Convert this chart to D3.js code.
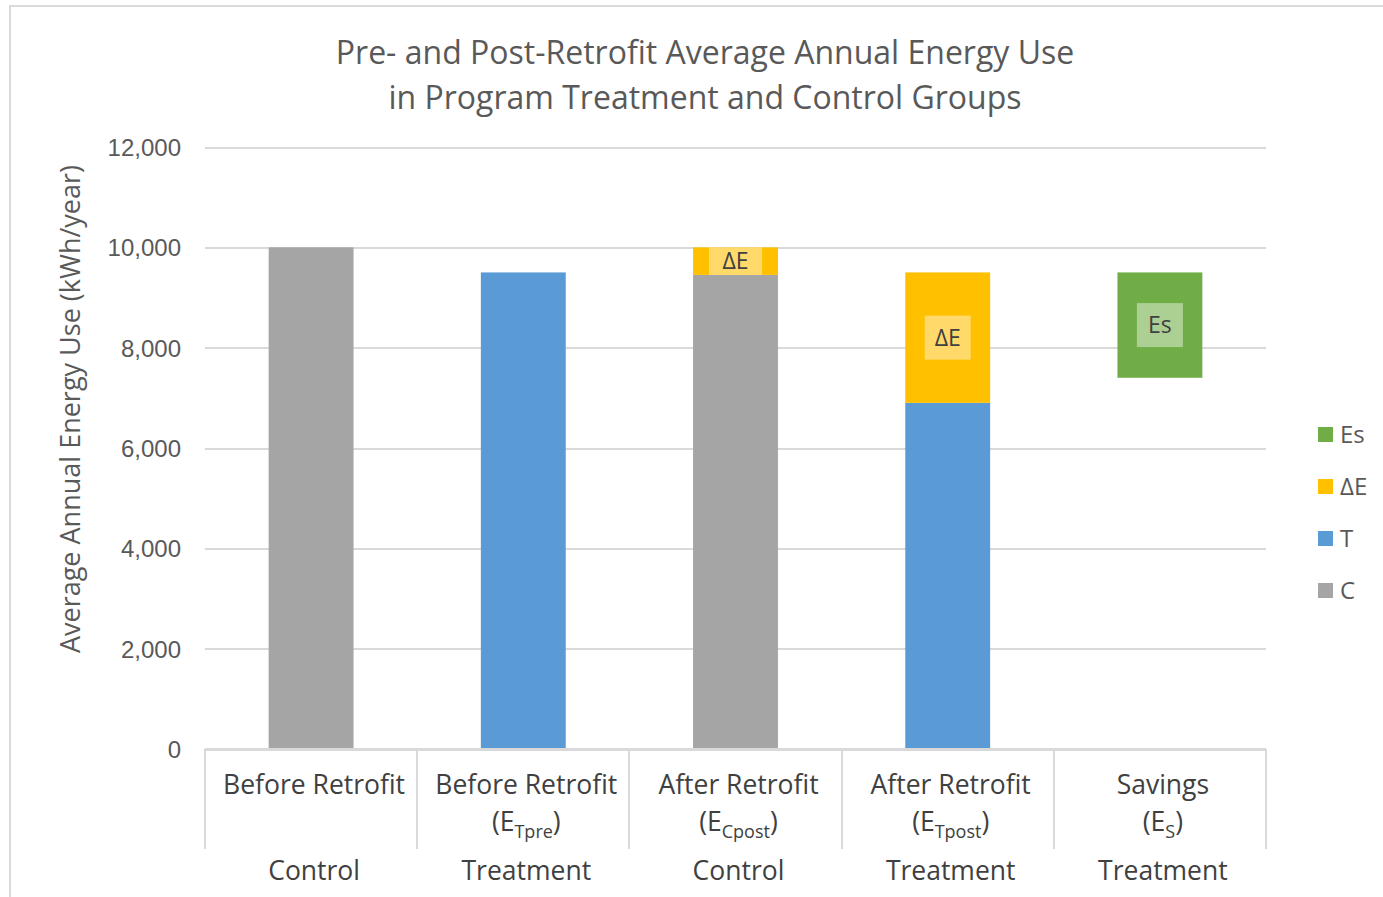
<!DOCTYPE html>
<meta charset="utf-8">
<style>
body { margin: 0; background: #fff; }
svg { font-family: "Open Sans", sans-serif; }
.grid line { stroke: #d9d9d9; stroke-width: 2px; shape-rendering: crispEdges; }
.grid path { stroke-width: 0; }
.grid text { fill: #595959; font-size: 24px; }
.axisline { stroke: #d9d9d9; stroke-width: 2px; shape-rendering: crispEdges; }
.cat { fill: #404040; font-size: 26.5px; text-anchor: middle; }
.seglabel { fill: #404040; font-size: 23px; text-anchor: middle; }
.legend text { fill: #595959; font-size: 24px; }
</style>
<body>
<script src="https://d3js.org/d3.v7.min.js"></script>
<script>

// chart data
var categories = ["Before Retrofit", "Before Retrofit", "After Retrofit", "After Retrofit", "Savings"];
var subscripts = ["", "Tpre", "Cpost", "Tpost", "S"];
var groups = ["Control", "Treatment", "Control", "Treatment", "Treatment"];
var baseValues = [0, 0, 0, 0, 7400];      // invisible offset
var cValues = [10000, 0, 9450, 0, 0];
var tValues = [0, 9500, 0, 6900, 0];
var deltaValues = [0, 0, 550, 2600, 0];
var esValues = [0, 0, 0, 0, 2100];
var yTicks = [0, 2000, 4000, 6000, 8000, 10000, 12000];

var series = [
  {key: "base", label: null, values: baseValues, color: "none"},
  {key: "C", label: "C", values: cValues, color: "#a5a5a5"},
  {key: "T", label: "T", values: tValues, color: "#5b9bd5"},
  {key: "dE", label: "\u0394E", values: deltaValues, color: "#ffc000"},
  {key: "Es", label: "Es", values: esValues, color: "#70ad47"}
];

var W = 1383, H = 897;
var margin = {top: 147, left: 205, right: 117, bottom: 148};
var width = 1266 - 205, height = 749 - 147;

var svg = d3.select("body").append("svg")
    .attr("width", W).attr("height", H);

// outer chart border
svg.append("rect")
    .attr("x", 10).attr("y", 6)
    .attr("width", W).attr("height", H)
    .attr("fill", "none").attr("stroke", "#d9d9d9").attr("stroke-width", 2);

// title
var title = svg.append("text")
    .attr("text-anchor", "middle")
    .style("fill", "#595959").style("font-size", "32px");
title.append("tspan").attr("x", 705).attr("y", 64).text("Pre- and Post-Retrofit Average Annual Energy Use");
title.append("tspan").attr("x", 705).attr("y", 109).text("in Program Treatment and Control Groups");

var g = svg.append("g").attr("transform", "translate(" + margin.left + "," + margin.top + ")");

var x = d3.scaleBand().domain(d3.range(categories.length)).range([0, width]);
var y = d3.scaleLinear().domain([0, 12000]).range([height, 0]);

// gridlines + y labels
g.append("g")
    .attr("class", "grid")
    .call(d3.axisLeft(y).tickValues(yTicks).tickSize(-width).tickPadding(24)
        .tickFormat(d3.format(",")))
    .selectAll(".tick text").attr("dy", "0.35em");

// y axis title
svg.append("text")
    .attr("transform", "translate(80,409) rotate(-90)")
    .attr("text-anchor", "middle")
    .style("fill", "#595959").style("font-size", "27px")
    .text("Average Annual Energy Use (kWh/year)");

// stacked bars
var rows = categories.map(function(c, i) {
  var r = {i: i};
  series.forEach(function(s) { r[s.key] = s.values[i]; });
  return r;
});
var stack = d3.stack().keys(series.map(function(s) { return s.key; }))(rows);
var barW = x.bandwidth() * 0.4;

var layers = g.selectAll(".layer")
    .data(stack)
  .enter().append("g")
    .attr("fill", function(d, k) { return series[k].color; });

layers.selectAll("rect")
    .data(function(d) { return d; })
  .enter().append("rect")
    .attr("x", function(d) { return x(d.data.i) + (x.bandwidth() - barW) / 2; })
    .attr("width", barW)
    .attr("y", function(d) { return y(d[1]); })
    .attr("height", function(d) { return y(d[0]) - y(d[1]); });

// segment labels for dE and Es
stack.forEach(function(layer, k) {
  var s = series[k];
  if (s.key !== "dE" && s.key !== "Es") return;
  layer.forEach(function(d) {
    if (d[1] - d[0] <= 0) return;
    var cx = x(d.data.i) + x.bandwidth() / 2;
    var cy = (y(d[0]) + y(d[1])) / 2;
    var segH = y(d[0]) - y(d[1]);
    var bw = s.key === "dE" && segH < 40 ? 53 : 46;
    var bh = Math.min(44, segH);
    g.append("rect")
        .attr("x", cx - bw / 2).attr("y", cy - bh / 2)
        .attr("width", bw).attr("height", bh)
        .attr("fill", "#fff").attr("fill-opacity", 0.42);
    g.append("text")
        .attr("class", "seglabel")
        .attr("x", cx).attr("y", cy).attr("dy", "0.36em")
        .text(s.label);
  });
});

// category axis
var axis = g.append("g").attr("transform", "translate(0," + height + ")");
axis.append("line").attr("class", "axisline").attr("x1", 0).attr("x2", width);
var bounds = d3.range(categories.length).map(function(i) { return x(i); }).concat([width]);
axis.selectAll(".sep")
    .data(bounds)
  .enter().append("line")
    .attr("class", "axisline")
    .attr("x1", function(d) { return d; }).attr("x2", function(d) { return d; })
    .attr("y1", 0).attr("y2", 100);

axis.selectAll(".catlabel")
    .data(categories)
  .enter().append("text")
    .attr("class", "cat")
    .attr("x", function(d, i) { return x(i) + x.bandwidth() / 2 + 3; })
    .attr("y", 45)
    .text(function(d) { return d; });

axis.selectAll(".sub")
    .data(subscripts)
  .enter().append("text")
    .attr("class", "cat")
    .attr("x", function(d, i) { return x(i) + x.bandwidth() / 2 + 3; })
    .attr("y", 82)
    .each(function(d) {
      if (!d) return;
      var t = d3.select(this);
      t.append("tspan").text("(E");
      t.append("tspan").attr("dy", 7).style("font-size", "18px").text(d);
      t.append("tspan").attr("dy", -7).text(")");
    });

axis.selectAll(".grp")
    .data(groups)
  .enter().append("text")
    .attr("class", "cat")
    .attr("x", function(d, i) { return x(i) + x.bandwidth() / 2 + 3; })
    .attr("y", 131)
    .text(function(d) { return d; });

// legend
var legendSeries = series.filter(function(s) { return s.label; }).reverse();
var legend = svg.append("g").attr("class", "legend")
  .selectAll("g")
    .data(legendSeries)
  .enter().append("g")
    .attr("transform", function(d, i) { return "translate(1318," + (435 + i * 52) + ")"; });
legend.append("rect")
    .attr("x", 0).attr("y", -8).attr("width", 15).attr("height", 15)
    .attr("fill", function(d) { return d.color; });
legend.append("text")
    .attr("x", 22).attr("y", 0).attr("dy", "0.35em")
    .text(function(d) { return d.label; });

</script>
</body>
